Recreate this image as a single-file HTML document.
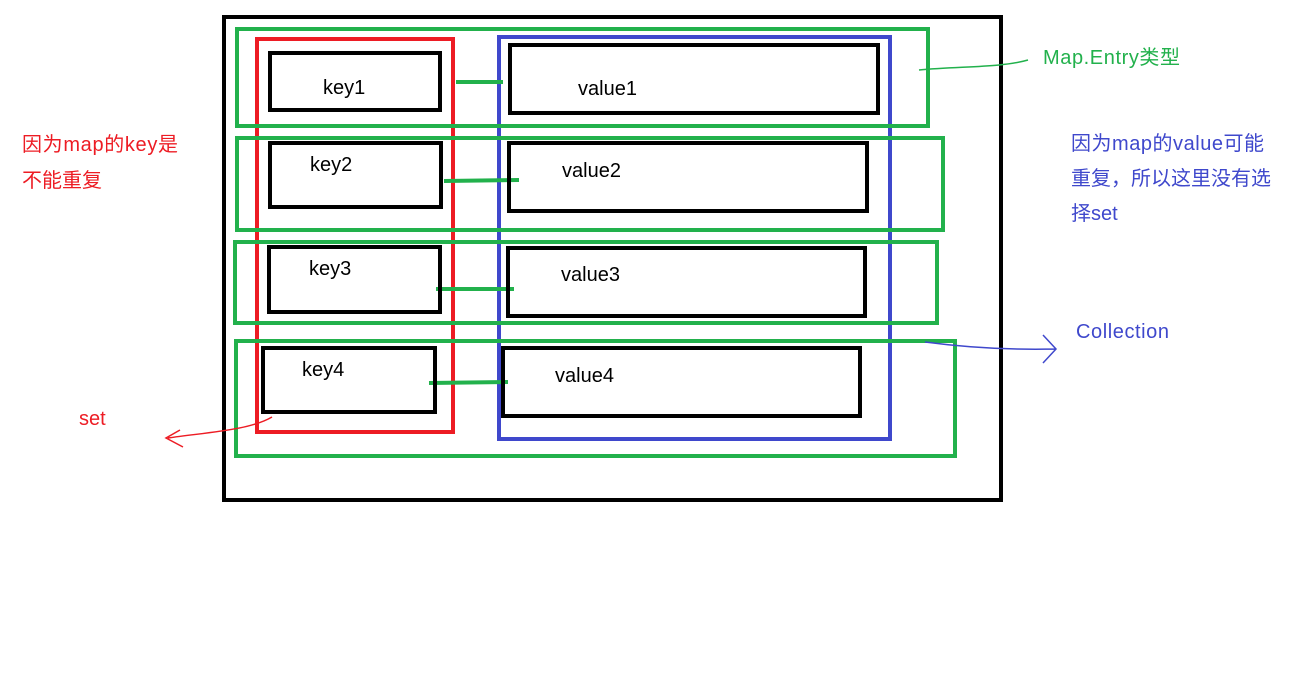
<!DOCTYPE html>
<html><head><meta charset="utf-8"><style>
html,body{margin:0;padding:0;background:#fff;}
svg{display:block;}
text{font-family:"Liberation Sans","Noto Sans CJK SC",sans-serif;font-size:20px;}
</style></head><body>
<svg width="1315" height="676" viewBox="0 0 1315 676" xmlns="http://www.w3.org/2000/svg">
<rect x="0" y="0" width="1315" height="676" fill="#fff"/>
<rect x="224" y="17" width="777" height="483" fill="none" stroke="#000" stroke-width="4"/>
<rect x="257" y="39" width="196" height="393" fill="none" stroke="#ed1c24" stroke-width="4"/>
<rect x="499" y="37" width="391" height="402" fill="none" stroke="#3f48cc" stroke-width="4"/>
<g fill="none" stroke="#22b14c" stroke-width="4">
<rect x="237" y="29" width="691" height="97"/>
<rect x="237" y="138" width="706" height="92"/>
<rect x="235" y="242" width="702" height="81"/>
<rect x="236" y="341" width="719" height="115"/>
<line x1="456" y1="82" x2="503" y2="82"/>
<line x1="444" y1="181" x2="519" y2="180"/>
<line x1="436" y1="289" x2="514" y2="289"/>
<line x1="429" y1="383" x2="508" y2="382"/>
</g>
<path d="M919 70 C960 66 1000 68 1028 60" fill="none" stroke="#22b14c" stroke-width="1.5"/>
<g fill="none" stroke="#000" stroke-width="4">
<rect x="270" y="53" width="170" height="57"/>
<rect x="270" y="143" width="171" height="64"/>
<rect x="269" y="247" width="171" height="65"/>
<rect x="263" y="348" width="172" height="64"/>
<rect x="510" y="45" width="368" height="68"/>
<rect x="509" y="143" width="358" height="68"/>
<rect x="508" y="248" width="357" height="68"/>
<rect x="503" y="348" width="357" height="68"/>
</g>
<g fill="#000">
<text x="323" y="94">key1</text>
<text x="578" y="95">value1</text>
<text x="310" y="171">key2</text>
<text x="562" y="177">value2</text>
<text x="309" y="275">key3</text>
<text x="561" y="281">value3</text>
<text x="302" y="376">key4</text>
<text x="555" y="382">value4</text>
</g>
<text x="1043" y="64" fill="#22b14c" textLength="137">Map.Entry类型</text>
<text x="22" y="151" fill="#ed1c24" textLength="156">因为map的key是</text>
<text x="22" y="187" fill="#ed1c24" textLength="80">不能重复</text>
<text x="79" y="425" fill="#ed1c24">set</text>
<path d="M272 417 C250 430 210 432 168 438 M180 430 L166 438 L183 447" fill="none" stroke="#ed1c24" stroke-width="1.5"/>
<text x="1071" y="150" fill="#3f48cc" textLength="193">因为map的value可能</text>
<text x="1071" y="185" fill="#3f48cc" textLength="200">重复，所以这里没有选</text>
<text x="1071" y="220" fill="#3f48cc">择set</text>
<text x="1076" y="338" fill="#3f48cc" textLength="93">Collection</text>
<path d="M925 342 C970 348 1010 350 1055 349 M1043 335 L1056 349 L1043 363" fill="none" stroke="#3f48cc" stroke-width="1.5"/>
</svg>
</body></html>
